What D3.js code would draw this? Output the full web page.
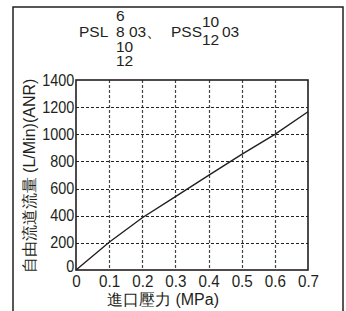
<!DOCTYPE html>
<html>
<head>
<meta charset="utf-8">
<script src="https://cdn.jsdelivr.net/npm/d3@7"></script>
<style>
  body { margin: 0; background: #fff; }
  text { font-family: "Liberation Sans", Arial, sans-serif; fill: #231f20; }
</style>
</head>
<body>
<div id="chart"></div>
<script>
// data
var pressure = [0, 0.1, 0.2, 0.3, 0.4, 0.5, 0.6, 0.7];
var flow = [0, 205, 385, 540, 697, 852, 1000, 1166];
var xTicks = [0, 0.1, 0.2, 0.3, 0.4, 0.5, 0.6, 0.7];
var yTicks = [0, 200, 400, 600, 800, 1000, 1200, 1400];

var svgWidth = 346;
var svgHeight = 311;

var margin = { top: 80, right: 38, bottom: 41, left: 76 };
var width = svgWidth - margin.left - margin.right;
var height = svgHeight - margin.top - margin.bottom;

var svg = d3.select("#chart")
  .append("svg")
  .attr("width", svgWidth)
  .attr("height", svgHeight);

// outer frame
svg.append("rect")
  .attr("x", 13)
  .attr("y", 7)
  .attr("width", 330)
  .attr("height", 320)
  .attr("fill", "none")
  .attr("stroke", "#231f20")
  .attr("stroke-width", 1.5);

var chartGroup = svg.append("g")
  .attr("transform", `translate(${margin.left}, ${margin.top})`);

var x = d3.scaleLinear().domain([0, 0.7]).range([0, width]);
var y = d3.scaleLinear().domain([0, 1400]).range([height, 0]);

// dashed grid, snapped to pixels so it stays crisp
var gridGroup = chartGroup.append("g").attr("class", "grid");

gridGroup.selectAll(".vgrid")
  .data(xTicks.slice(1, -1))
  .enter()
  .append("line")
  .attr("class", "vgrid")
  .attr("x1", d => Math.round(x(d)) + 0.5).attr("x2", d => Math.round(x(d)) + 0.5)
  .attr("y1", 0).attr("y2", height)
  .attr("stroke", "#444")
  .attr("stroke-width", 1.2)
  .attr("stroke-dasharray", "3,2");

gridGroup.selectAll(".hgrid")
  .data(yTicks.slice(1, -1))
  .enter()
  .append("line")
  .attr("class", "hgrid")
  .attr("x1", 0).attr("x2", width)
  .attr("y1", d => Math.round(y(d)) + 0.5).attr("y2", d => Math.round(y(d)) + 0.5)
  .attr("stroke", "#222")
  .attr("stroke-width", 1.2)
  .attr("stroke-dasharray", "3,2");

// axes (labels only)
var bottomAxis = d3.axisBottom(x).tickValues(xTicks).tickSize(0).tickPadding(6)
  .tickFormat(d => d === 0 ? "0" : d3.format(".1f")(d));
var leftAxis = d3.axisLeft(y).tickValues(yTicks).tickSize(0).tickPadding(2)
  .tickFormat(d3.format("d"));

var xAxisG = chartGroup.append("g")
  .attr("transform", `translate(0, ${height})`)
  .call(bottomAxis);
var yAxisG = chartGroup.append("g").call(leftAxis);

[xAxisG, yAxisG].forEach(function(g) {
  g.select(".domain").remove();
  g.selectAll("text")
    .attr("font-size", "16px")
    .attr("font-family", "Liberation Sans, Arial, sans-serif")
    .attr("fill", "#231f20");
});
yAxisG.selectAll("text").attr("transform", "scale(0.9,1)")
  .attr("x", -2);
yAxisG.selectAll(".tick").filter(d => d === 0).select("text").attr("dy", "0.1em");
xAxisG.selectAll("text").attr("transform", "scale(0.95,1)");

// plot frame
chartGroup.append("rect")
  .attr("width", width)
  .attr("height", height)
  .attr("fill", "none")
  .attr("stroke", "#231f20")
  .attr("stroke-width", 1.6);

// flow line
var line = d3.line()
  .x((d, i) => x(pressure[i]))
  .y(d => y(d));

chartGroup.append("path")
  .datum(flow)
  .attr("d", line)
  .attr("fill", "none")
  .attr("stroke", "#231f20")
  .attr("stroke-width", 1.4);

// axis titles
svg.append("text")
  .attr("x", 163)
  .attr("y", 305)
  .attr("text-anchor", "middle")
  .attr("font-size", "16px")
  .text("進口壓力 (MPa)");

svg.append("text")
  .attr("transform", "translate(35, 176) rotate(-90)")
  .attr("text-anchor", "middle")
  .attr("font-size", "16px")
  .text("自由流道流量 (L/Min)(ANR)");

// model title
var title = svg.append("g").attr("font-size", "15.5px");
function t(xp, yp, s) {
  title.append("text").attr("x", xp).attr("y", yp).text(s);
}
t(79, 37, "PSL");
t(116, 21, "6");
t(116, 37, "8");
t(116, 52, "10");
t(116, 66, "12");
t(129, 37, "03、");
t(171, 37, "PSS");
t(202, 27, "10");
t(202, 45, "12");
t(222, 37, "03");
</script>
</body>
</html>
